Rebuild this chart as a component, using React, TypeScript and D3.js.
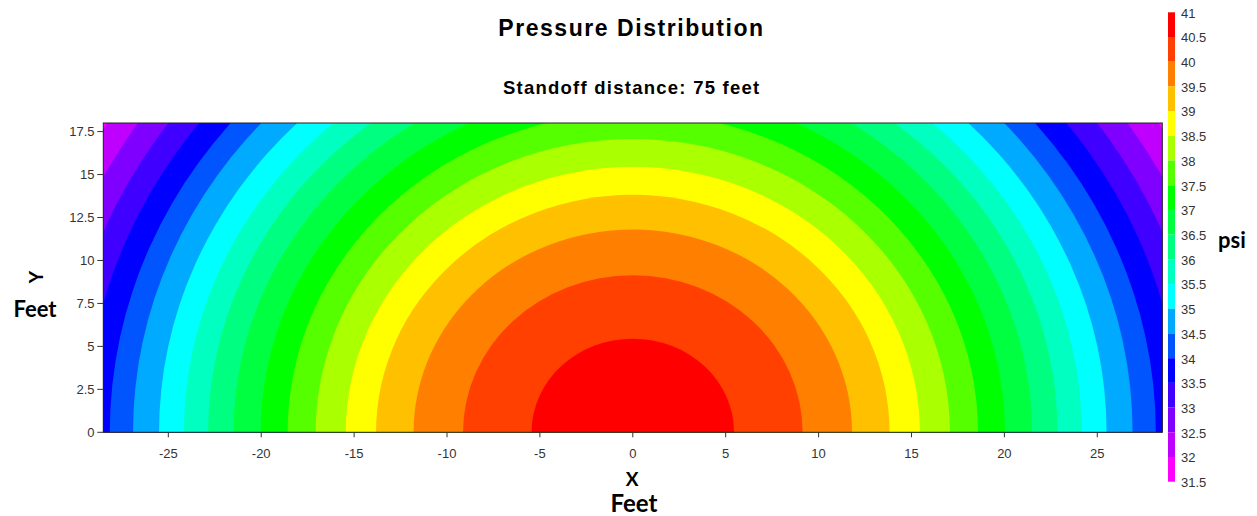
import React from "react";
import * as d3 from "d3";

// ---- data ----
const colorbarLevels = [41, 40.5, 40, 39.5, 39, 38.5, 38, 37.5, 37, 36.5, 36, 35.5, 35, 34.5, 34, 33.5, 33, 32.5, 32, 31.5];
const bandColorsAsc = [
  "#FF00FF", "#C000FF", "#8000FF", "#4000FF", "#0000FF", "#0055FF", "#00AAFF", "#00FFFF", "#00FFC0", "#00FF80",
  "#00FF40", "#00FF00", "#55FF00", "#AAFF00", "#FFFF00", "#FFC000", "#FF8000", "#FF4000", "#FF0000",
];
// pressure contour levels (psi) and radius (feet) from ground zero where each is reached
const contourLevels = [32, 32.5, 33, 33.5, 34, 34.5, 35, 35.5, 36, 36.5, 37, 37.5, 38, 38.5, 39, 39.5, 40, 40.5];
const contourRadii = [33.53, 32.15, 30.8, 29.47, 28.15, 26.9, 25.5, 24.16, 22.86, 21.49, 20.03, 18.58, 17.07, 15.45, 13.82, 11.8, 9.14, 5.45];
const xTicks = [-25, -20, -15, -10, -5, 0, 5, 10, 15, 20, 25];
const yTicks = [0, 2.5, 5, 7.5, 10, 12.5, 15, 17.5];
const xExtent = [-28.5, 28.5];
const yExtent = [0, 18];

const W = 1257, H = 516;
const plot = { left: 103.3, right: 1162.3, top: 123, bottom: 432.3 };
const bar = { x: 1168, w: 7, top: 12.3, bottom: 481.7 };

const FONT = "'Liberation Sans', Arial, sans-serif";
const FONT2 = "Lato, 'Open Sans', sans-serif";

export default function App() {
  const x = d3.scaleLinear().domain(xExtent).range([plot.left, plot.right]);
  const y = d3.scaleLinear().domain(yExtent).range([plot.bottom, plot.top]);
  const color = d3.scaleThreshold<number, string>()
    .domain(contourLevels)
    .range(bandColorsAsc);
  const cScale = d3.scaleLinear().domain([31.5, 41]).range([bar.bottom, bar.top]);

  const order = d3.range(contourLevels.length).sort((a, b) => contourRadii[b] - contourRadii[a]);

  return (
    <svg width={W} height={H} style={{ position: "absolute", left: 0, top: 0, display: "block" }}>
      <defs>
        <clipPath id="plotClip">
          <rect x={plot.left} y={plot.top} width={plot.right - plot.left} height={plot.bottom - plot.top} />
        </clipPath>
      </defs>
      <rect x={0} y={0} width={W} height={H} fill="#fff" />

      <text x={631.5} y={36} textAnchor="middle" fontFamily={FONT} fontWeight="bold" fontSize={23} letterSpacing={1.55} fill="#000">
        Pressure Distribution
      </text>
      <text x={631.7} y={94.3} textAnchor="middle" fontFamily={FONT} fontWeight="bold" fontSize={18.5} letterSpacing={1.25} fill="#000">
        Standoff distance: 75 feet
      </text>

      <g clipPath="url(#plotClip)">
        <rect x={plot.left} y={plot.top} width={plot.right - plot.left} height={plot.bottom - plot.top} fill={color(31.75)} />
        {order.map((i) => {
          const r = contourRadii[i];
          return (
            <ellipse
              key={i}
              cx={x(0)}
              cy={y(0)}
              rx={x(r) - x(0)}
              ry={y(0) - y(r)}
              fill={color(contourLevels[i] + 0.25)}
            />
          );
        })}
      </g>
      <rect x={plot.left} y={plot.top} width={plot.right - plot.left} height={plot.bottom - plot.top} fill="none" stroke="#222" strokeWidth={1} />

      {xTicks.map((t) => (
        <g key={"x" + t}>
          <line x1={x(t)} x2={x(t)} y1={plot.bottom} y2={plot.bottom + 5} stroke="#333" />
          <text x={x(t)} y={458} textAnchor="middle" fontFamily={FONT} fontSize={13} fill="#333">{t}</text>
        </g>
      ))}
      {yTicks.map((t) => (
        <g key={"y" + t}>
          <line x1={plot.left - 6} x2={plot.left} y1={y(t)} y2={y(t)} stroke="#333" />
          <text x={94.5} y={y(t)} dy="0.35em" textAnchor="end" fontFamily={FONT} fontSize={13} fill="#333">{t}</text>
        </g>
      ))}

      {colorbarLevels.slice(0, -1).map((hi, i) => {
        const lo = colorbarLevels[i + 1];
        return (
          <rect key={"c" + i} x={bar.x} y={cScale(hi)} width={bar.w} height={cScale(lo) - cScale(hi)} fill={color((hi + lo) / 2)} />
        );
      })}
      {colorbarLevels.map((v) => (
        <text key={"cl" + v} x={1181} y={cScale(v) + 0.8} dy="0.35em" fontFamily={FONT} fontSize={13} fill="#333">{v}</text>
      ))}

      <text x={632} y={486} textAnchor="middle" fontFamily={FONT2} fontWeight="bold" fontSize={19} fill="#000">X</text>
      <text x={634} y={512} textAnchor="middle" fontFamily={FONT2} fontWeight="bold" fontSize={24} fill="#000">Feet</text>
      <text transform="translate(43,277) rotate(-90)" textAnchor="middle" fontFamily={FONT2} fontWeight="bold" fontSize={19} fill="#000">Y</text>
      <text x={35} y={316.5} textAnchor="middle" fontFamily={FONT2} fontWeight="bold" fontSize={22} fill="#000">Feet</text>
      <text x={1232} y={248} textAnchor="middle" fontFamily={FONT2} fontWeight="bold" fontSize={22} fill="#000">psi</text>
    </svg>
  );
}
